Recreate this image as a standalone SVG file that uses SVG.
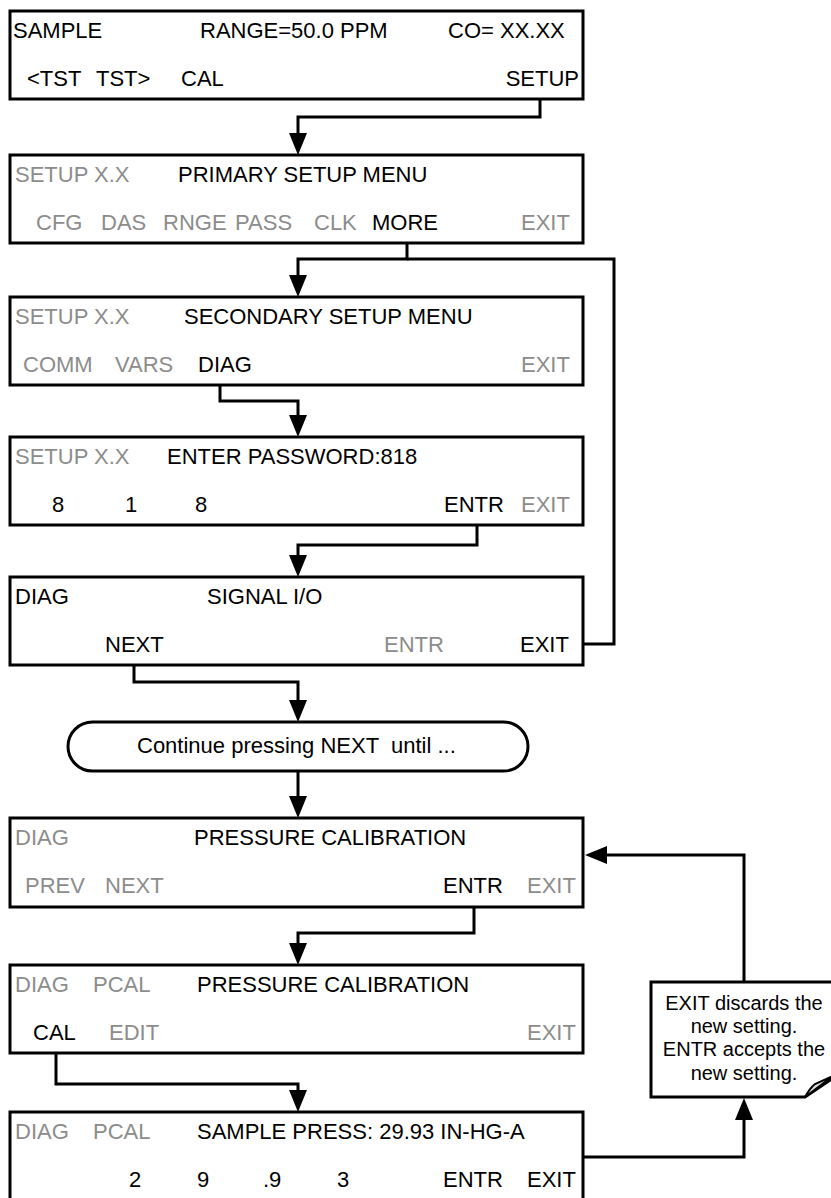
<svg xmlns="http://www.w3.org/2000/svg" width="831" height="1198" viewBox="0 0 831 1198">
<style>
text{font-family:"Liberation Sans",Arial,sans-serif;font-size:22px;fill:#000}
.g{fill:#8c8c8c}
.box{fill:#fff;stroke:#000;stroke-width:3}
.c{fill:none;stroke:#000;stroke-width:3}
.n{font-size:20px}
</style>
<defs>
<marker id="ah" markerUnits="userSpaceOnUse" markerWidth="22" markerHeight="18" refX="10" refY="9" orient="auto">
<path d="M0,0 L22,9 L0,18 Z" fill="#000"/>
</marker>
</defs>
<rect width="831" height="1198" fill="#fff"/>
<g id="connectors">
<path class="c" d="M540,99 V117 H298 V143" marker-end="url(#ah)"/>
<path class="c" d="M407,235 V259 H298 V285" marker-end="url(#ah)"/>
<path class="c" d="M407,259 H614 V644 H573"/>
<path class="c" d="M220,376 V401 H298 V425" marker-end="url(#ah)"/>
<path class="c" d="M477,516 V545 H298 V565" marker-end="url(#ah)"/>
<path class="c" d="M134,657 V682 H298 V710" marker-end="url(#ah)"/>
<path class="c" d="M298,771 V806" marker-end="url(#ah)"/>
<path class="c" d="M474,898 V933 H298 V953" marker-end="url(#ah)"/>
<path class="c" d="M56,1045 V1084 H298 V1100" marker-end="url(#ah)"/>
<path class="c" d="M583,1157 H744 V1110" marker-end="url(#ah)"/>
<path class="c" d="M744,982 V855 H597" marker-end="url(#ah)"/>
</g>
<g id="n1">
<rect class="box" x="10" y="11" width="573" height="88"/>
<text x="13" y="38">SAMPLE</text>
<text x="200" y="38">RANGE=50.0 PPM</text>
<text x="448" y="38">CO= XX.XX</text>
<text x="27" y="86">&lt;TST</text>
<text x="96" y="86">TST&gt;</text>
<text x="181" y="86">CAL</text>
<text x="579" y="86" text-anchor="end">SETUP</text>
</g>
<g id="n2">
<rect class="box" x="10" y="155" width="573" height="88"/>
<text class="g" x="15" y="182">SETUP X.X</text>
<text x="178" y="182">PRIMARY SETUP MENU</text>
<text class="g" x="36" y="230">CFG</text>
<text class="g" x="101" y="230">DAS</text>
<text class="g" x="163" y="230">RNGE</text>
<text class="g" x="235" y="230">PASS</text>
<text class="g" x="314" y="230">CLK</text>
<text x="372" y="230">MORE</text>
<text class="g" x="521" y="230">EXIT</text>
</g>
<g id="n3">
<rect class="box" x="10" y="297" width="573" height="88"/>
<text class="g" x="15" y="324">SETUP X.X</text>
<text x="184" y="324">SECONDARY SETUP MENU</text>
<text class="g" x="23" y="372">COMM</text>
<text class="g" x="115" y="372">VARS</text>
<text x="198" y="372">DIAG</text>
<text class="g" x="521" y="372">EXIT</text>
</g>
<g id="n4">
<rect class="box" x="10" y="437" width="573" height="88"/>
<text class="g" x="15" y="464">SETUP X.X</text>
<text x="167" y="464">ENTER PASSWORD:818</text>
<text x="52" y="512">8</text>
<text x="125" y="512">1</text>
<text x="195" y="512">8</text>
<text x="444" y="512">ENTR</text>
<text class="g" x="521" y="512">EXIT</text>
</g>
<g id="n5">
<rect class="box" x="10" y="577" width="573" height="88"/>
<text x="15" y="604">DIAG</text>
<text x="207" y="604">SIGNAL I/O</text>
<text x="105" y="652">NEXT</text>
<text class="g" x="384" y="652">ENTR</text>
<text x="520" y="652">EXIT</text>
</g>
<g id="n-continue">
<rect class="box" x="68" y="722" width="460" height="49" rx="24.5"/>
<text x="137" y="753" xml:space="preserve">Continue pressing <tspan>NEXT</tspan>  until ...</text>
</g>
<g id="n6">
<rect class="box" x="10" y="818" width="573" height="89"/>
<text class="g" x="15" y="845">DIAG</text>
<text x="194" y="845">PRESSURE CALIBRATION</text>
<text class="g" x="25" y="893">PREV</text>
<text class="g" x="105" y="893">NEXT</text>
<text x="443" y="893">ENTR</text>
<text class="g" x="527" y="893">EXIT</text>
</g>
<g id="n7">
<rect class="box" x="10" y="965" width="573" height="88"/>
<text class="g" x="15" y="992">DIAG</text>
<text class="g" x="93" y="992">PCAL</text>
<text x="197" y="992">PRESSURE CALIBRATION</text>
<text x="33" y="1040">CAL</text>
<text class="g" x="109" y="1040">EDIT</text>
<text class="g" x="527" y="1040">EXIT</text>
</g>
<g id="n8">
<rect class="box" x="10" y="1112" width="573" height="89"/>
<text class="g" x="15" y="1139">DIAG</text>
<text class="g" x="93" y="1139">PCAL</text>
<text x="197" y="1139">SAMPLE PRESS: 29.93 IN-HG-A</text>
<text x="129" y="1187">2</text>
<text x="197" y="1187">9</text>
<text x="263" y="1187">.9</text>
<text x="337" y="1187">3</text>
<text x="443" y="1187">ENTR</text>
<text x="527" y="1187">EXIT</text>
</g>
<g id="note">
<path class="box" d="M651,982 H836 V1076 L805,1097 H651 Z"/>
<path d="M805,1097 Q810,1088 815,1084 L833,1076 Z" fill="#dcdcdc" stroke="#000" stroke-width="2"/>
<text class="n" x="744" y="1010" text-anchor="middle">EXIT discards the</text>
<text class="n" x="744" y="1033" text-anchor="middle">new setting.</text>
<text class="n" x="744" y="1056" text-anchor="middle">ENTR accepts the</text>
<text class="n" x="744" y="1080" text-anchor="middle">new setting.</text>
</g>
</svg>
